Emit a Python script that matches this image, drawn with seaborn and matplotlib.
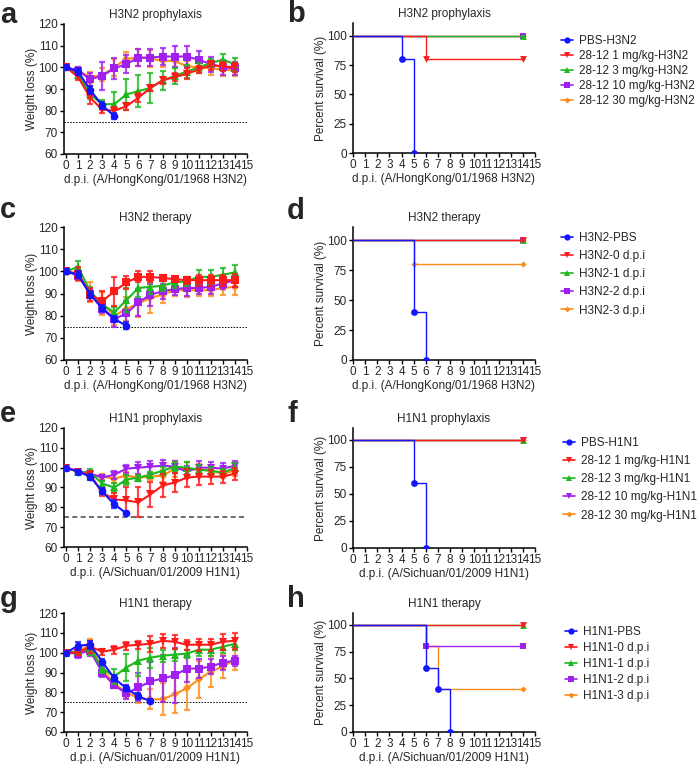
import numpy as np
import pandas as pd
import matplotlib
matplotlib.use("Agg")
import matplotlib.pyplot as plt
import seaborn as sns
from matplotlib.lines import Line2D

sns.set_style("ticks")
plt.rcParams['font.family'] = ['Liberation Sans', 'DejaVu Sans']

# ---------------- data ----------------
days = list(range(15))

# panel a: H3N2 prophylaxis weight
a_pbs = [100, 98, 89.5, 82.5, 77.5]
a_pbs_sd = [0.5, 1.5, 2, 1.5, 1.5]
a_1 = [100, 95.5, 86, 80.5, 80, 82, 86, 90.5, 94, 95.5, 97, 99, 101, 100.5, 100]
a_1_sd = [0.5, 1.5, 3, 1.5, 1.5, 1.5, 2, 1.5, 1.5, 2, 2.5, 1.5, 2, 2, 2]
a_3 = [100, 96.5, 87.5, 83, 83, 87.5, 89, 90.5, 94, 96, 98, 100, 102, 103.5, 101.5]
a_3_sd = [0.5, 1.5, 2, 2, 5.5, 7, 7.5, 7, 4.5, 3.5, 3, 2, 2, 2.5, 3]
a_10 = [100, 98.5, 94.5, 96, 99.5, 101.5, 104.5, 104.5, 105, 105, 105, 103.5, 101.5, 100, 99.5]
a_10_sd = [0.5, 1.5, 3, 6.5, 5, 4, 4, 4, 4, 5, 5, 4, 3.5, 3.5, 3]
a_30 = [100, 98.5, 95.5, 96.5, 100, 104, 104.5, 104, 103, 103, 100.5, 100, 99.5, 99, 98.5]
a_30_sd = [0.5, 1.5, 2.5, 3, 4, 3, 4, 4, 3, 3, 2.5, 2.5, 3, 3, 2.5]

# panel c: H3N2 therapy weight
c_pbs = [100, 98.5, 89.5, 83.5, 78.5, 75.5]
c_pbs_sd = [1, 1.5, 1.5, 1.5, 1.5, 1.5]
c_0 = [100, 99, 89.5, 86.5, 91, 95, 97.5, 97.5, 97, 96.5, 96, 96, 96, 96, 96]
c_0_sd = [1, 3, 3, 4.5, 6.5, 3, 2.5, 2.5, 1.5, 1.5, 1.5, 2.5, 2.5, 2.5, 3]
c_1 = [100, 102, 91, 85, 81.5, 87, 92.5, 93, 93.5, 95, 95.5, 97.5, 97.5, 98.5, 99.5]
c_1_sd = [1, 2.5, 2, 2, 2.5, 5.5, 4, 3, 2.5, 2.5, 2, 3, 3, 3, 3.5]
c_2 = [100, 98, 90, 83, 78.5, 81, 86, 89.5, 91, 92, 92.5, 92.5, 93, 94.5, 96]
c_2_sd = [1, 2, 2, 2, 3.5, 5.5, 6, 5, 3.5, 2.5, 3.5, 2.5, 3, 2.5, 3]
c_3 = [100, 98.5, 90.5, 85.5, 80, 83, 85.5, 88, 89.5, 91.5, 91.5, 91.5, 91.5, 92.5, 93]
c_3_sd = [1, 3, 4.5, 5, 4, 5.5, 6, 7, 4, 2.5, 3, 2.5, 2.5, 3, 3.5]

# panel e: H1N1 prophylaxis weight
e_pbs = [100, 98, 95.5, 88, 81.5, 77]
e_pbs_sd = [0.5, 1, 1.5, 1.5, 2, 0.5]
e_1 = [100, 98, 96.5, 87.5, 84, 83.5, 82.5, 86.5, 91, 92.5, 95, 95.5, 95.5, 95.5, 97]
e_1_sd = [0.5, 1, 2, 2, 3, 6.5, 7.5, 6.5, 6, 5, 4.5, 4, 3.5, 3, 3]
e_3 = [100, 98, 97.5, 92, 90, 94, 95, 96.5, 98.5, 100.5, 100, 99, 98.5, 97.5, 100]
e_3_sd = [0.5, 1, 2, 1.5, 2.5, 2.5, 1.5, 1.5, 2, 2.5, 3, 2.5, 2, 2, 2.5]
e_10 = [100, 98, 97, 95, 96.5, 99.5, 100, 100.5, 101, 100.5, 98, 100, 100, 99.5, 101]
e_10_sd = [0.5, 1, 1.5, 1.5, 2, 2, 3, 3, 3, 3, 3, 3.5, 3, 3, 2.5]
e_30 = [100, 98, 96.5, 95.5, 94.5, 96, 95, 95.5, 96, 99.5, 99.5, 99, 98.5, 97, 98.5]
e_30_sd = [0.5, 1, 1.5, 1.5, 2, 2, 1.5, 1.5, 3, 4, 3.5, 3, 2.5, 2, 2.5]

# panel g: H1N1 therapy weight
g_pbs = [100, 103.5, 104, 95.5, 87, 82, 78, 75.5]
g_pbs_sd = [0.5, 2, 2, 1.5, 1.5, 1.5, 1.5, 1]
g_0 = [100, 100, 103, 100.5, 101.5, 103.5, 104, 104.5, 106, 105.5, 104, 104, 104, 105.5, 106]
g_0_sd = [0.5, 1, 3, 1.5, 2, 2, 2, 4, 3.5, 3.5, 2.5, 3, 3, 4, 4]
g_1 = [100, 100.5, 102, 92, 88, 92.5, 96, 97.5, 98.5, 99, 99.5, 101.5, 101.5, 103, 104.5]
g_1_sd = [0.5, 1, 3, 2, 4, 7, 8, 5, 3, 3, 2, 3, 3, 3, 3]
g_2 = [100, 99.5, 101, 90, 83.5, 79.5, 82.5, 85.5, 87, 88.5, 92, 92, 93, 95, 96]
g_2_sd = [0.5, 2, 2.5, 2.5, 1.5, 3, 7, 10, 12, 14, 7, 5, 4, 3.5, 2.5]
g_3 = [100, 100.5, 104, 91.5, 84.5, 80, 77, 76.5, 76.5, 79, 82, 86.5, 90.5, 93, 96.5]
g_3_sd = [0.5, 1, 3, 2, 2, 3, 2.5, 5, 8, 9.5, 11, 9.5, 8, 6, 5]

# survival (time, percent)
b_pbs_t, b_pbs_s = [0, 4, 5], [100, 80, 0]
b_1_t, b_1_s = [0, 6, 14], [100, 80, 80]
b_3_t, b_3_s = [0, 14], [100, 100]
b_10_t, b_10_s = [0, 14], [100, 100]
b_30_t, b_30_s = [0, 14], [100, 100]

d_pbs_t, d_pbs_s = [0, 5, 6], [100, 40, 0]
d_0_t, d_0_s = [0, 14], [100, 100]
d_1_t, d_1_s = [0, 14], [100, 100]
d_2_t, d_2_s = [0, 14], [100, 100]
d_3_t, d_3_s = [0, 5, 14], [100, 80, 80]

f_pbs_t, f_pbs_s = [0, 5, 6], [100, 60, 0]
f_1_t, f_1_s = [0, 14], [100, 100]
f_3_t, f_3_s = [0, 14], [100, 100]
f_10_t, f_10_s = [0, 14], [100, 100]
f_30_t, f_30_s = [0, 14], [100, 100]

h_pbs_t, h_pbs_s = [0, 6, 7, 8], [100, 60, 40, 0]
h_0_t, h_0_s = [0, 14], [100, 100]
h_1_t, h_1_s = [0, 14], [100, 100]
h_2_t, h_2_s = [0, 6, 14], [100, 80, 80]
h_3_t, h_3_s = [0, 6, 7, 14], [100, 80, 40, 40]

b_labels = ['PBS-H3N2', '28-12 1 mg/kg-H3N2', '28-12 3 mg/kg-H3N2',
            '28-12 10 mg/kg-H3N2', '28-12 30 mg/kg-H3N2']
d_labels = ['H3N2-PBS', 'H3N2-0 d.p.i', 'H3N2-1 d.p.i', 'H3N2-2 d.p.i', 'H3N2-3 d.p.i']
f_labels = ['PBS-H1N1', '28-12 1 mg/kg-H1N1', '28-12 3 mg/kg-H1N1',
            '28-12 10 mg/kg-H1N1', '28-12 30 mg/kg-H1N1']
h_labels = ['H1N1-PBS', 'H1N1-0 d.p.i', 'H1N1-1 d.p.i', 'H1N1-2 d.p.i', 'H1N1-3 d.p.i']

# ---------------- style ----------------
COLORS = ['#1414FF', '#FF1A1A', '#1DB81D', '#A020F0', '#FF8C1A']
FS = 8.5
W, H = 697, 766

fig = plt.figure(figsize=(W / 100, H / 100), dpi=100)


def add_ax(left, right, top, bottom):
    return fig.add_axes([left / W, 1 - bottom / H, (right - left) / W, (bottom - top) / H])


def style_ax(ax):
    sns.despine(ax=ax)
    for s in ['left', 'bottom']:
        ax.spines[s].set_linewidth(1.1)
        ax.spines[s].set_color('black')
    ax.tick_params(axis='both', which='major', length=3, width=1, pad=1.5,
                   labelsize=FS, color='black')
    ax.set_xticks(range(16))
    ax.set_xticklabels([str(i) for i in range(16)])


def weight_panel(ax, series, markers, title, xlabel, dashed=False):
    n = len(series)
    for i in reversed(range(n)):
        vals, sd = series[i]
        x = days[:len(vals)]
        z = 10 + (n - i) * 2
        ax.errorbar(x, vals, yerr=sd, fmt='none', ecolor=COLORS[i], elinewidth=1.6,
                    capsize=2.5, capthick=1.6, alpha=0.8, zorder=z)
        df = pd.DataFrame({'day': x, 'val': vals})
        sns.lineplot(data=df, x='day', y='val', ax=ax, color=COLORS[i],
                     marker=markers[i], markersize=5.5 if markers[i] != 'D' else 4,
                     markeredgewidth=0, linewidth=1.5, zorder=z + 1)
    if dashed:
        ax.axhline(75, color='#555555', lw=1.2, ls=(0, (3, 2)), zorder=1)
    else:
        ax.axhline(75, color='black', lw=0.7, ls=(0, (1.5, 1.5)), zorder=1)
    ax.set_xlim(-0.17, 15)
    ax.set_ylim(60, 120)
    ax.set_yticks(range(60, 121, 10))
    style_ax(ax)
    ax.set_ylabel('Weight loss (%)', fontsize=FS, labelpad=0)
    ax.set_xlabel(xlabel, fontsize=FS, labelpad=1)
    ax.set_title(title, fontsize=FS, pad=4)


def survival_panel(ax, series, markers, title, xlabel, labels, leg_left, leg_top, spacing):
    n = len(series)
    for i in reversed(range(n)):
        t, s = series[i]
        z = 10 + (n - i) * 2
        sns.lineplot(x=t, y=s, ax=ax, color=COLORS[i], linewidth=1.0,
                     drawstyle='steps-post', zorder=z, estimator=None)
        sns.scatterplot(x=t[1:], y=s[1:], ax=ax, color=COLORS[i], marker=markers[i],
                        s=24 if markers[i] != 'D' else 10, linewidth=0, zorder=z + 1)
    ax.set_xlim(0, 15)
    ax.set_ylim(0, 111)
    ax.set_yticks([0, 25, 50, 75, 100])
    style_ax(ax)
    ax.set_ylabel('Percent survival (%)', fontsize=FS, labelpad=0)
    ax.set_xlabel(xlabel, fontsize=FS, labelpad=1)
    ax.set_title(title, fontsize=FS, pad=4)
    handles = [Line2D([], [], color=COLORS[i], marker=markers[i], lw=1.2,
                      markersize=4.5 if markers[i] != 'D' else 3, markeredgewidth=0)
               for i in range(n)]
    ax.legend(handles, labels, loc='upper left',
              bbox_to_anchor=(leg_left / W, 1 - leg_top / H), bbox_transform=fig.transFigure,
              frameon=False, fontsize=FS, handlelength=1.0, handletextpad=0.5,
              borderpad=0, borderaxespad=0, labelspacing=spacing)


LX0, LX1 = 64, 247
RX0, RX1 = 353, 535
xl_h3 = 'd.p.i. (A/HongKong/01/1968 H3N2)'
xl_h1 = 'd.p.i. (A/Sichuan/01/2009 H1N1)'

ax_a = add_ax(LX0, LX1, 24, 154)
weight_panel(ax_a, [(a_pbs, a_pbs_sd), (a_1, a_1_sd), (a_3, a_3_sd), (a_10, a_10_sd), (a_30, a_30_sd)],
             ['o', 'v', '^', 's', 'D'], 'H3N2 prophylaxis', xl_h3)
ax_c = add_ax(LX0, LX1, 227, 360)
weight_panel(ax_c, [(c_pbs, c_pbs_sd), (c_0, c_0_sd), (c_1, c_1_sd), (c_2, c_2_sd), (c_3, c_3_sd)],
             ['o', 's', '^', 's', 'D'], 'H3N2 therapy', xl_h3)
ax_e = add_ax(LX0, LX1, 428, 547)
weight_panel(ax_e, [(e_pbs, e_pbs_sd), (e_1, e_1_sd), (e_3, e_3_sd), (e_10, e_10_sd), (e_30, e_30_sd)],
             ['o', 'v', '^', 'v', 'D'], 'H1N1 prophylaxis', xl_h1, dashed=True)
ax_g = add_ax(LX0, LX1, 613, 732)
weight_panel(ax_g, [(g_pbs, g_pbs_sd), (g_0, g_0_sd), (g_1, g_1_sd), (g_2, g_2_sd), (g_3, g_3_sd)],
             ['o', 'v', '^', 's', 'D'], 'H1N1 therapy', xl_h1)

ax_b = add_ax(RX0, RX1, 23, 153)
survival_panel(ax_b, [(b_pbs_t, b_pbs_s), (b_1_t, b_1_s), (b_3_t, b_3_s), (b_10_t, b_10_s), (b_30_t, b_30_s)],
               ['o', 'v', '^', 's', 'D'], 'H3N2 prophylaxis', xl_h3, b_labels, 561, 35, 0.25)
ax_d = add_ax(RX0, RX1, 227, 360)
survival_panel(ax_d, [(d_pbs_t, d_pbs_s), (d_0_t, d_0_s), (d_1_t, d_1_s), (d_2_t, d_2_s), (d_3_t, d_3_s)],
               ['o', 'v', '^', 's', 'D'], 'H3N2 therapy', xl_h3, d_labels, 561, 232, 0.52)
ax_f = add_ax(RX0, RX1, 428, 548)
survival_panel(ax_f, [(f_pbs_t, f_pbs_s), (f_1_t, f_1_s), (f_3_t, f_3_s), (f_10_t, f_10_s), (f_30_t, f_30_s)],
               ['o', 'v', '^', 'v', 'D'], 'H1N1 prophylaxis', xl_h1, f_labels, 563, 437, 0.52)
ax_h = add_ax(RX0, RX1, 613, 732)
survival_panel(ax_h, [(h_pbs_t, h_pbs_s), (h_0_t, h_0_s), (h_1_t, h_1_s), (h_2_t, h_2_s), (h_3_t, h_3_s)],
               ['o', 'v', '^', 's', 'D'], 'H1N1 therapy', xl_h1, h_labels, 565, 626, 0.34)

for letter, x, y in [('a', 0, 23), ('b', 287, 22), ('c', 0, 218), ('d', 287, 219),
                     ('e', 0, 422), ('f', 287, 422), ('g', 0, 607), ('h', 287, 607)]:
    fig.text(x / W, 1 - y / H, letter, fontsize=21, fontweight='bold',
             ha='left', va='baseline')

fig.savefig('out.png', dpi=100)
